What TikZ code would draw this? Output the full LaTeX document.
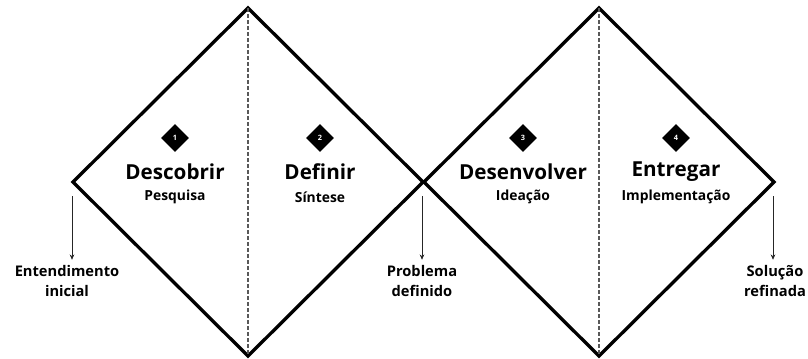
\documentclass[tikz,border=0pt]{standalone}
\usepackage{fontspec}
\setmainfont{Open Sans}
\usetikzlibrary{positioning,shapes.geometric,arrows.meta}

\begin{document}
\begin{tikzpicture}[x=0.75pt,y=-0.75pt]
  \tikzset{phase/.style={draw=black, line width=2.5pt, line join=miter}}
  \tikzset{split/.style={draw=black!65, line width=1.1pt, dash pattern=on 3pt off 1.5pt}}
  \tikzset{badge/.style={diamond, fill=black, inner sep=0pt, minimum width=21pt, minimum height=21pt, text=white, font=\bfseries\fontsize{5.5}{6}\selectfont}}
  \tikzset{title/.style={font=\bfseries\fontsize{15.5}{18}\selectfont}}
  \tikzset{subtitle/.style={font=\bfseries\fontsize{10.4}{12}\selectfont}}
  \tikzset{outcome/.style={align=center, inner sep=1pt, font=\bfseries\fontsize{11}{15}\selectfont}}
  \tikzset{flow/.style={-{Stealth[length=4pt,width=3.5pt]}, draw=black!85, line width=0.6pt, shorten >=3pt}}
  \useasboundingbox (0,0) rectangle (808,358);
  % double diamond
  \coordinate (d1w) at (73,182); \coordinate (d1n) at (248,8);
  \coordinate (d1e) at (423,182); \coordinate (d1s) at (248,356);
  \coordinate (d2w) at (424,182); \coordinate (d2n) at (599,8);
  \coordinate (d2e) at (774,182); \coordinate (d2s) at (599,356);
  \draw[phase] (d1w) -- (d1n) -- (d1e) -- (d1s) -- cycle;
  \draw[phase] (d2w) -- (d2n) -- (d2e) -- (d2s) -- cycle;
  \draw[split] (d1n) -- (d1s);
  \draw[split] (d2n) -- (d2s);
  % phases
  \foreach \x/\n/\t/\s in {175/1/Descobrir/Pesquisa, 320/2/Definir/Síntese,
      523/3/Desenvolver/Ideação, 676/4/Entregar/Implementação} {
    \node[badge] (b\n) at (\x,138) {\n};
    \node[title] (t\n) at (\x,172) {\t};
    \node[subtitle] (s\n) at (\x,197) {\s};
  }
  % outcomes
  \node[outcome] (o1) at (67,281) {Entendimento\\inicial};
  \node[outcome] (o2) at (422,281) {Problema\\definido};
  \node[outcome] (o3) at (775,281) {Solução\\refinada};
  \coordinate (a1) at (72,196);
  \coordinate (a2) at (422,196);
  \coordinate (a3) at (773,196);
  \draw[flow] (a1) -- (a1 |- o1.north);
  \draw[flow] (a2) -- (a2 |- o2.north);
  \draw[flow] (a3) -- (a3 |- o3.north);
\end{tikzpicture}
\end{document}
